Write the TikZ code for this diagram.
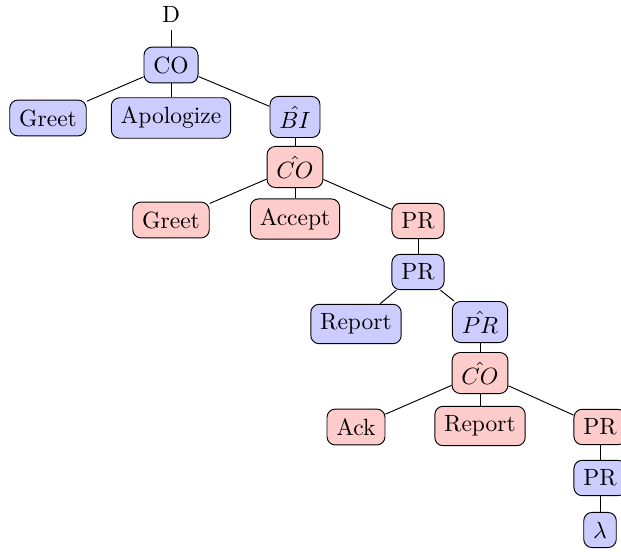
\documentclass[tikz,border=0pt]{standalone}
\begin{document}
\begin{tikzpicture}[x=0.4255pt,y=-0.4255pt,
  bnode/.style={draw=black,fill=blue!20,rounded corners=3.5pt,inner sep=4pt},
  rnode/.style={draw=black,fill=red!20,rounded corners=3.5pt,inner sep=4pt},
  edge/.style={draw=black,line width=0.4pt}]
\useasboundingbox (0,0) rectangle (621,552);
\node (D) at (171,14) {D};
\node[bnode] (CO) at (171,65) {CO};
\node[bnode] (G1) at (48,118) {Greet};
\node[bnode] (Ap) at (171,118) {Apologize};
\node[bnode] (BI) at (295,117) {$\hat{BI}$};
\node[rnode] (CO2) at (295,167) {$\hat{CO}$};
\node[rnode] (G2) at (171,220) {Greet};
\node[rnode] (Ac) at (295,219) {Accept};
\node[rnode] (PR1) at (418,221) {PR};
\node[bnode] (PR2) at (418,272) {PR};
\node[bnode] (R1) at (356,324) {Report};
\node[bnode] (PRh) at (480,322) {$\hat{PR}$};
\node[rnode] (CO3) at (480,373) {$\hat{CO}$};
\node[rnode] (Ack) at (356,427) {Ack};
\node[rnode] (R2) at (480,426) {Report};
\node[rnode] (PR3) at (600,427) {PR};
\node[bnode] (PR4) at (600,478) {PR};
\node[bnode] (L) at (600,530) {$\lambda$};
\draw[edge] (D) -- (CO);
\draw[edge] (CO) -- (G1);
\draw[edge] (CO) -- (Ap);
\draw[edge] (CO) -- (BI);
\draw[edge] (BI) -- (CO2);
\draw[edge] (CO2) -- (G2);
\draw[edge] (CO2) -- (Ac);
\draw[edge] (CO2) -- (PR1);
\draw[edge] (PR1) -- (PR2);
\draw[edge] (PR2) -- (R1);
\draw[edge] (PR2) -- (PRh);
\draw[edge] (PRh) -- (CO3);
\draw[edge] (CO3) -- (Ack);
\draw[edge] (CO3) -- (R2);
\draw[edge] (CO3) -- (PR3);
\draw[edge] (PR3) -- (PR4);
\draw[edge] (PR4) -- (L);
\end{tikzpicture}
\end{document}
